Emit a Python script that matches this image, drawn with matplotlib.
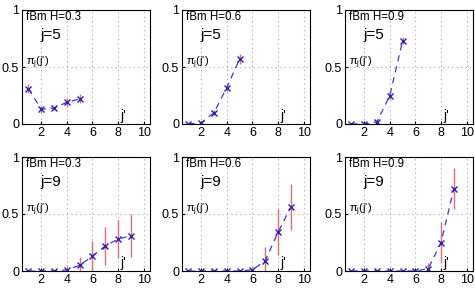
import numpy as np
import matplotlib
matplotlib.use("Agg")
import matplotlib.pyplot as plt

plt.rcParams.update({
    "font.family": ["Liberation Sans", "DejaVu Sans"],
    "font.size": 9,
    "mathtext.fontset": "custom", "mathtext.rm": "Liberation Sans",
    "xtick.direction": "in", "ytick.direction": "in",
    "xtick.major.size": 2, "ytick.major.size": 2,
})

hurst = ["0.3", "0.6", "0.9"]
scales = [5, 9]

# pi_j(j') means and error half-widths, rows j=5 then j=9
means_j5 = [
    [0.31, 0.13, 0.14, 0.19, 0.22],
    [0.00, 0.01, 0.10, 0.32, 0.57],
    [0.00, 0.00, 0.02, 0.25, 0.73],
]
errs_j5 = [
    [0.04, 0.03, 0.02, 0.04, 0.04],
    [0.01, 0.01, 0.02, 0.03, 0.04],
    [0.00, 0.00, 0.01, 0.04, 0.03],
]
means_j9 = [
    [0.00, 0.00, 0.00, 0.01, 0.05, 0.13, 0.22, 0.28, 0.31],
    [0.00, 0.00, 0.00, 0.00, 0.00, 0.01, 0.09, 0.34, 0.56],
    [0.00, 0.00, 0.00, 0.00, 0.00, 0.00, 0.02, 0.25, 0.72],
]
errs_j9 = [
    [0.00, 0.00, 0.00, 0.04, 0.07, 0.13, 0.17, 0.17, 0.19],
    [0.00, 0.00, 0.00, 0.00, 0.00, 0.03, 0.12, 0.20, 0.20],
    [0.00, 0.00, 0.00, 0.00, 0.00, 0.00, 0.05, 0.18, 0.18],
]

W, H = 475, 290
fig = plt.figure(figsize=(W / 100, H / 100), dpi=100)

lefts = [22, 182, 345]
tops = [10, 157]
aw, ah = 128, 114

for r, j in enumerate(scales):
    means = means_j5 if j == 5 else means_j9
    errs = errs_j5 if j == 5 else errs_j9
    for c, h in enumerate(hurst):
        ax = fig.add_axes([lefts[c] / W, 1 - (tops[r] + ah) / H, aw / W, ah / H])
        x = np.arange(1, len(means[c]) + 1)
        y = np.array(means[c])
        e = np.array(errs[c])
        ax.errorbar(x, y, yerr=e, fmt="none", ecolor="#ec6a72", elinewidth=1.0, capsize=0)
        ax.plot(x, y, linestyle=(0, (5, 4)), color="#3a3ae0", linewidth=0.9,
                marker="x", markersize=4, markeredgecolor="#3020c0", markeredgewidth=1.0)
        ax.set_xlim(0.5, 10.5)
        ax.set_ylim(0, 1)
        ax.set_xticks([2, 4, 6, 8, 10])
        ax.set_yticks([0, 0.5, 1])
        ax.set_yticklabels(["0", "0.5", "1"])
        ax.grid(True, color="#aaaaaa", linestyle=(0, (1, 3)), linewidth=0.8)
        ax.tick_params(labelsize=9, pad=2)
        ax.text(0.85, 0.935, f"fBm H={h}", fontsize=8.3, va="center")
        ax.text(1.9, 0.78, f"j={j}", fontsize=11, va="center")
        ax.text(0.85, 0.535, r"π$_{\rm j}$(j')", fontsize=8, va="center")
        ax.text(8.2, 0.07, "j'", fontsize=10, va="center")

plt.savefig("out.png", dpi=100)
